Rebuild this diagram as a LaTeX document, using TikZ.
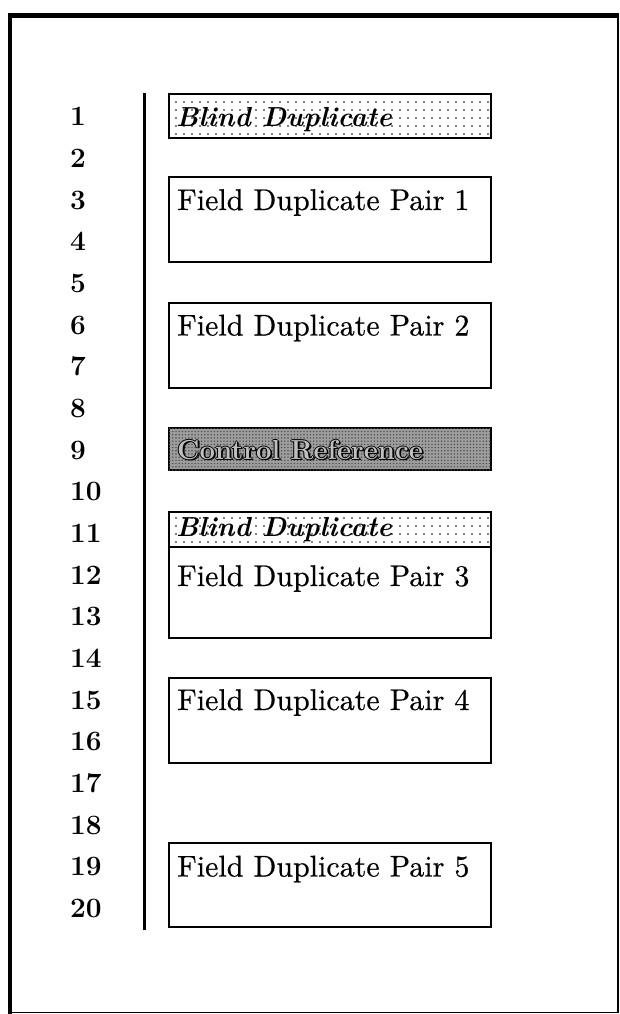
\documentclass[tikz,border=0pt]{standalone}
\usepackage{fontspec}
\newfontfamily\heavyrm[FakeBold=0.5]{lmroman10-regular.otf}
\usetikzlibrary{patterns.meta}
\tikzset{
  boxframe/.style={draw=black, line width=2.4pt, minimum width=322pt, inner sep=0pt, outer sep=0pt},
  plainbox/.style={boxframe, fill=white},
  blindbox/.style={boxframe, fill=white, postaction={pattern={Dots[distance=8pt,radius=0.95pt]}, pattern color=black}},
  ctrlbox/.style={boxframe, fill=black!38, postaction={pattern={Dots[distance=3.2pt,radius=0.8pt]}, pattern color=black!70}},
  lbl/.style={font=\heavyrm\fontsize{30}{36}\selectfont, inner sep=0pt, anchor=base west},
  blindlbl/.style={font=\fontsize{27.5}{32}\selectfont\bfseries\itshape, inner sep=0pt, anchor=base west},
  ctrllbl/.style={font=\fontsize{27.5}{32}\selectfont\bfseries, inner sep=0pt, anchor=base west},
  numlbl/.style={font=\fontsize{28}{33}\selectfont\bfseries, inner sep=0pt, anchor=base west},
  thickrule/.style={line width=3pt},
}
\begin{document}
\begin{tikzpicture}[x=1pt, y=-1pt]
\useasboundingbox (0,0) rectangle (620,1014);
% outer frame
\coordinate (ftl) at (8,16);
\coordinate (ftr) at (619,16);
\coordinate (fbl) at (10,1014);
\coordinate (flt) at (10,14);
\coordinate (frt) at (618,16);
\coordinate (frb) at (618,1012.5);
\coordinate (fbb) at (10,1012.5);
\draw[line width=5pt] (ftl) -- (ftr);
\draw[line width=4.5pt] (flt) -- (fbl);
\draw[line width=1.5pt] (frt) -- (frb);
\draw[line width=1.5pt] (fbb) -- (frb);
% vertical rule
\coordinate (vtop) at (144,93);
\coordinate (vbot) at (144,930);
\draw[thickrule] (vtop) -- (vbot);
% row numbers
\foreach \k in {1,...,20}{
  \node[numlbl] (n\k) at (70,{116.5+(\k-1)*41.65+9.5}) {\k};
}
% boxes
\node[blindbox, minimum height=44pt] (bd1) at (330,116) {};
\node[blindlbl] (bd1t) at (176,127) {Blind Duplicate};

\node[plainbox, minimum height=85pt] (fdp1) at (330,219.5) {};
\node[lbl] (fdp1t) at (177,210) {Field Duplicate Pair 1};

\node[plainbox, minimum height=85pt] (fdp2) at (330,345.5) {};
\node[lbl] (fdp2t) at (177,335.5) {Field Duplicate Pair 2};

\node[ctrlbox, minimum height=42pt] (cr) at (330,449) {};
\foreach \dx/\dy [count=\i] in {-1/0,1/0,0/-1,0/1,1.8/1.8}{
  \node[ctrllbl, text=black] (crs\i) at ({177+\dx},{459+\dy}) {Control Reference};
}
\node[ctrllbl, text=black!25] (crt) at (177,459) {Control Reference};

\node[blindbox, minimum height=35pt] (bd2) at (330,529.5) {};
\node[blindlbl] (bd2t) at (176,536) {Blind Duplicate};
\node[plainbox, minimum height=91pt] (fdp3) at (330,592.5) {};
\node[lbl] (fdp3t) at (177,586) {Field Duplicate Pair 3};

\node[plainbox, minimum height=85pt] (fdp4) at (330,720.5) {};
\node[lbl] (fdp4t) at (177,710) {Field Duplicate Pair 4};

\node[plainbox, minimum height=84pt] (fdp5) at (330,885) {};
\node[lbl] (fdp5t) at (177,876.5) {Field Duplicate Pair 5};
\end{tikzpicture}
\end{document}
